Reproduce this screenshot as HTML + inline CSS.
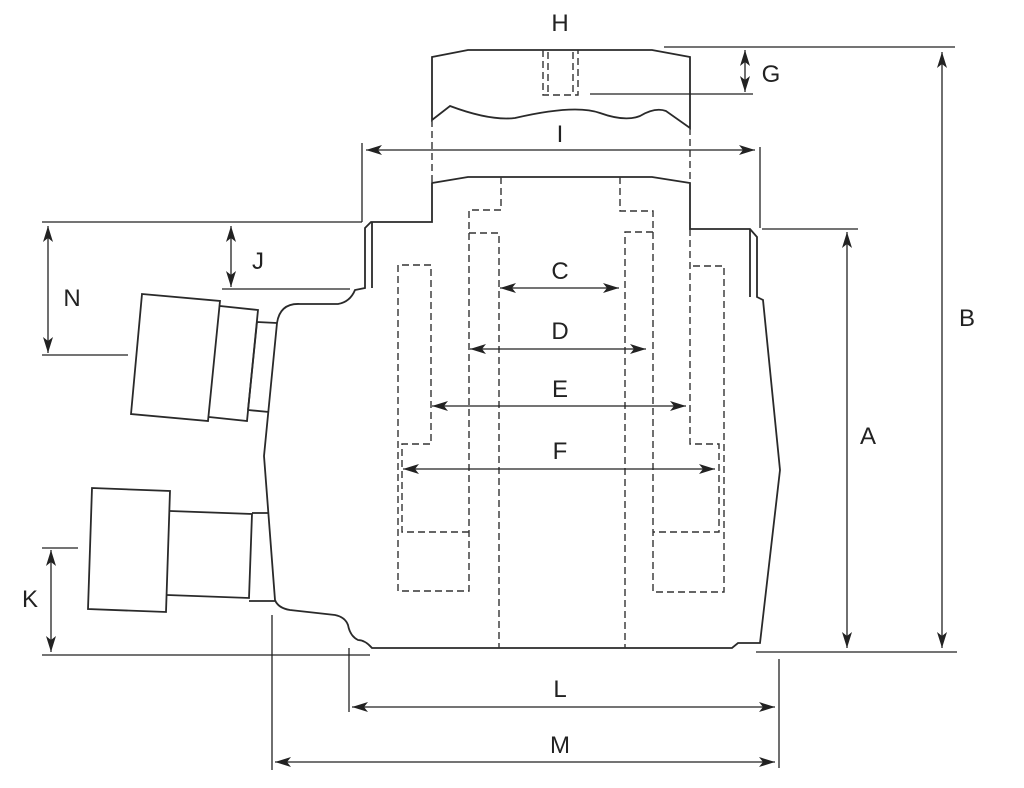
<!DOCTYPE html>
<html><head><meta charset="utf-8"><style>
html,body{margin:0;padding:0;background:#fff;width:1024px;height:788px;overflow:hidden}
text{font-family:"Liberation Sans",sans-serif;font-size:24px;fill:#222;text-anchor:middle}
</style></head><body>
<svg width="1024" height="788" viewBox="0 0 1024 788" xmlns="http://www.w3.org/2000/svg">
<defs>
<marker id="a" viewBox="0 0 16 10" refX="16" refY="5" markerWidth="16" markerHeight="10" markerUnits="userSpaceOnUse" orient="auto-start-reverse"><path d="M0,0 L16,5 L0,10 L4,5 Z" fill="#222"/></marker>
</defs>
<g fill="none" stroke="#2a2a2a" stroke-width="1.8">
<path d="M432,57 L468,50 L652,50 L690,57 L690,128 L666,111 Q655,107 640,116 Q625,122 600,113 Q575,104 515,118 Q490,121 450,106 L432,120 Z"/>
<path d="M371,222 L432,222 L432,183 L468,177 L652,177 L690,183 L690,229 L750,229 L757,237 L757,297 L763,300 L780,470 L760,643 L738,643 L732,648 L372,648 Q365,640 358,640 Q350,636 348,625 Q345,617 335,615 L290,610 Q278,608 275,600 L264,456 L277,323 Q280,303 300,304 L338,304 Q350,302 355,290 L365,288 L365,228 Z"/>
<path d="M372,222 L372,288 M750,229 L750,297"/>
<path d="M142,294 L220,301 L208,421 L131,414 Z"/>
<path d="M220,306 L258,310 L247,421 L209,417"/>
<path d="M257,322 L277,323 M248,410 L269,412 M257,322 L248,410"/>
<path d="M92,488 L170,491 L166,612 L88,609 Z"/>
<path d="M170,511 L252,514 L249,598 L167,595"/>
<path d="M252,513 L268,513 M249,601 L275,601"/>
</g>
<g fill="none" stroke="#333" stroke-width="1.4" stroke-dasharray="7,4">
<path d="M432,120 L432,183 M690,128 L690,183"/>
<path d="M543,50 L543,95 L578,95 L578,50 M548,52 L548,95 M573,52 L573,95"/>
<path d="M501,177 L501,210 L469,210 L469,233 L499,233 L499,648"/>
<path d="M620,177 L620,211 L653,211 L653,232 L625,232 L625,648"/>
<path d="M469,233 L469,591 L398,591 L398,265 L431,265 L431,444 L402,444 L402,532 L469,532"/>
<path d="M653,232 L653,592 L724,592 L724,266 L690,266 M690,229 L690,444 L719,444 L719,532 L653,532"/>
</g>
<g fill="none" stroke="#222" stroke-width="1.3">
<line x1="366" y1="150" x2="755" y2="150" marker-start="url(#a)" marker-end="url(#a)"/>
<line x1="362" y1="143" x2="362" y2="222"/><line x1="760" y1="147" x2="760" y2="228"/>
<line x1="500" y1="288" x2="619" y2="288" marker-start="url(#a)" marker-end="url(#a)"/>
<line x1="470" y1="349" x2="646" y2="349" marker-start="url(#a)" marker-end="url(#a)"/>
<line x1="432" y1="406" x2="686" y2="406" marker-start="url(#a)" marker-end="url(#a)"/>
<line x1="403" y1="469" x2="715" y2="469" marker-start="url(#a)" marker-end="url(#a)"/>
<line x1="664" y1="47" x2="955" y2="47"/><line x1="590" y1="94" x2="753" y2="94"/>
<line x1="745" y1="50" x2="745" y2="92" marker-start="url(#a)" marker-end="url(#a)"/>
<line x1="942" y1="52" x2="942" y2="648" marker-start="url(#a)" marker-end="url(#a)"/>
<line x1="756" y1="652" x2="957" y2="652"/>
<line x1="762" y1="229" x2="858" y2="229"/>
<line x1="847" y1="232" x2="847" y2="648" marker-start="url(#a)" marker-end="url(#a)"/>
<line x1="42" y1="222" x2="362" y2="222"/><line x1="42" y1="355" x2="128" y2="355"/>
<line x1="48" y1="226" x2="48" y2="353" marker-start="url(#a)" marker-end="url(#a)"/>
<line x1="222" y1="289" x2="350" y2="289"/>
<line x1="231" y1="226" x2="231" y2="287" marker-start="url(#a)" marker-end="url(#a)"/>
<line x1="42" y1="548" x2="78" y2="548"/><line x1="42" y1="655" x2="370" y2="655"/>
<line x1="51" y1="550" x2="51" y2="652" marker-start="url(#a)" marker-end="url(#a)"/>
<line x1="349" y1="648" x2="349" y2="712"/><line x1="272" y1="615" x2="272" y2="770"/>
<line x1="779" y1="659" x2="779" y2="768"/>
<line x1="352" y1="707" x2="775" y2="707" marker-start="url(#a)" marker-end="url(#a)"/>
<line x1="275" y1="762" x2="775" y2="762" marker-start="url(#a)" marker-end="url(#a)"/>
</g>
<text x="560" y="31">H</text>
<text x="560" y="142">I</text>
<text x="771" y="82">G</text>
<text x="560" y="279">C</text>
<text x="560" y="339">D</text>
<text x="560" y="397">E</text>
<text x="560" y="459">F</text>
<text x="967" y="326">B</text>
<text x="868" y="444">A</text>
<text x="72" y="306">N</text>
<text x="258" y="269">J</text>
<text x="30" y="607">K</text>
<text x="560" y="697">L</text>
<text x="560" y="753">M</text>
</svg>
</body></html>
